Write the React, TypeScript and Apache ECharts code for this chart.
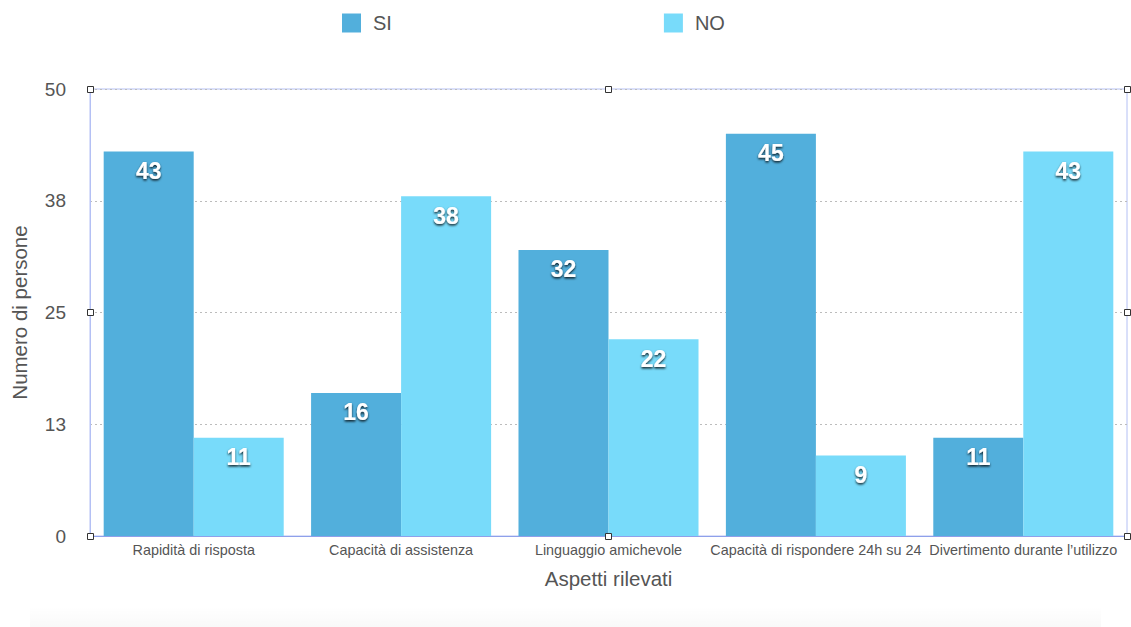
import React, { useEffect, useRef } from "react";
import * as echarts from "echarts";

// Survey results: how many people answered SI / NO for each aspect
const categories = [
  "Rapidità di risposta",
  "Capacità di assistenza",
  "Linguaggio amichevole",
  "Capacità di rispondere 24h su 24",
  "Divertimento durante l’utilizzo",
];
const siValues = [43, 16, 32, 45, 11];
const noValues = [11, 38, 22, 9, 43];
const seriesNames = ["SI", "NO"];

const W = 1131;
const H = 627;
const GRID = { left: 90, top: 89, right: 4, bottom: 91 };

const FONT = '"Liberation Sans", Arial, Helvetica, sans-serif';

export default function App() {
  const ref = useRef<HTMLDivElement>(null);

  useEffect(() => {
    if (!ref.current) return;
    const chart = echarts.init(ref.current, undefined, { renderer: "svg" });

    const gx0 = GRID.left;
    const gx1 = W - GRID.right;
    const gy0 = GRID.top;
    const gy1 = H - GRID.bottom;
    const gxm = (gx0 + gx1) / 2;
    const gym = (gy0 + gy1) / 2;
    const hs = 7;
    const handlePts = [
      [gx0, gy0], [gxm, gy0], [gx1, gy0],
      [gx0, gym], [gx1, gym],
      [gx0, gy1], [gxm, gy1], [gx1, gy1],
    ];

    const labelStyle = {
      show: true,
      position: "insideTop" as const,
      distance: 8,
      color: "#ffffff",
      fontSize: 23,
      fontWeight: "bold" as const,
      fontFamily: FONT,
      textShadowColor: "rgba(0,0,0,0.85)",
      textShadowBlur: 2,
      textShadowOffsetX: 0,
      textShadowOffsetY: 1.5,
    };

    chart.setOption({
      animation: false,
      backgroundColor: "#ffffff",
      textStyle: { fontFamily: FONT },
      legend: {
        top: 8,
        left: 337,
        itemWidth: 19,
        itemHeight: 19,
        itemGap: 272,
        icon: "rect",
        textStyle: { fontSize: 20, color: "#555555", fontFamily: FONT, padding: [0, 0, 0, 7] },
        data: seriesNames,
      },
      grid: {
        left: GRID.left,
        top: GRID.top,
        right: GRID.right,
        bottom: GRID.bottom,
        outerBoundsMode: "none",
        containLabel: false,
        show: true,
        borderColor: "#b4c0f4",
        borderWidth: 1,
        backgroundColor: "transparent",
      },
      xAxis: {
        type: "category",
        data: categories,
        name: "Aspetti rilevati",
        nameLocation: "middle",
        nameGap: 32,
        nameTextStyle: { fontSize: 20.5, color: "#555555", fontFamily: FONT },
        axisLine: { show: true, lineStyle: { color: "#8fa0ea", width: 1 } },
        axisTick: { show: false },
        axisLabel: { interval: 0, fontSize: 14.4, color: "#555555", margin: 7, fontFamily: FONT },
      },
      yAxis: {
        type: "value",
        min: 0,
        max: 50,
        interval: 12.5,
        name: "Numero di persone",
        nameLocation: "middle",
        nameGap: 60,
        nameTextStyle: { fontSize: 20.5, color: "#555555", fontFamily: FONT },
        axisLine: { show: true, lineStyle: { color: "#b4c0f4", width: 1 } },
        axisTick: { show: false },
        axisLabel: {
          fontSize: 19,
          color: "#555555",
          margin: 24,
          fontFamily: FONT,
          formatter: (v: number) => String(Math.round(v)),
        },
        splitLine: { show: true, lineStyle: { color: "#bcbcbc", type: [2, 3], width: 1 } },
      },
      series: [
        {
          name: seriesNames[0],
          type: "bar",
          data: siValues,
          barWidth: "43.4%",
          barGap: "0%",
          itemStyle: { color: "#52afdc" },
          label: labelStyle,
        },
        {
          name: seriesNames[1],
          type: "bar",
          data: noValues,
          barWidth: "43.4%",
          barGap: "0%",
          itemStyle: { color: "#78dbfa" },
          label: labelStyle,
        },
      ],
      graphic: [
        {
          type: "rect",
          silent: true,
          z: -1,
          shape: { x: 30, y: 606, width: W - 60, height: 21 },
          style: {
            fill: new echarts.graphic.LinearGradient(0, 0, 0, 1, [
              { offset: 0, color: "rgba(0,0,0,0)" },
              { offset: 1, color: "rgba(0,0,0,0.025)" },
            ]),
          },
        },
        ...handlePts.map(([x, y]) => ({
          type: "rect",
          silent: true,
          z: 100,
          shape: { x: Math.round(x - hs / 2) + 0.5, y: Math.round(y - hs / 2) + 0.5, width: hs - 1, height: hs - 1 },
          style: { fill: "#ffffff", stroke: "#333333", lineWidth: 1 },
        })),
      ],
    });

    return () => chart.dispose();
  }, []);

  return (
    <div
      ref={ref}
      style={{ position: "fixed", left: 0, top: 0, width: W, height: H, background: "#fff" }}
    />
  );
}
